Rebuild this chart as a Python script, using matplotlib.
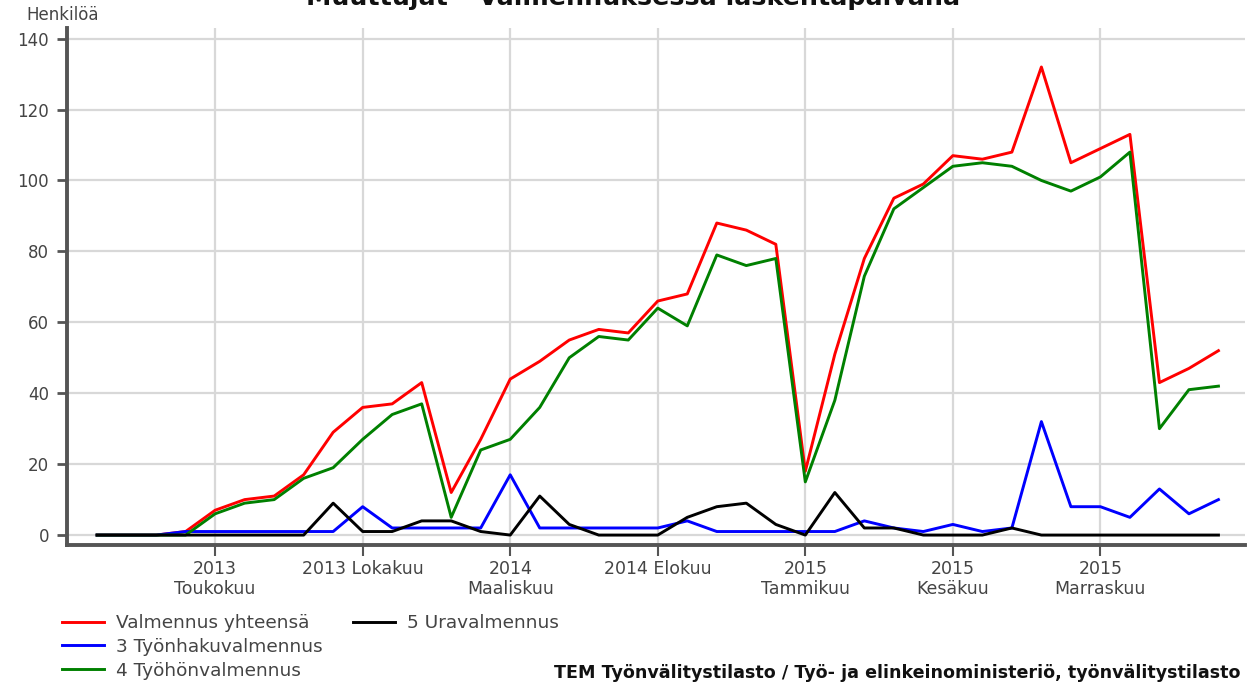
import matplotlib
matplotlib.use('Agg')
import matplotlib.pyplot as plt
import numpy as np

plt.rcParams['font.family'] = ['DejaVu Sans']

# months Jan 2013 .. Mar 2016
months = np.arange(39)

total = [0, 0, 0, 1, 7, 10, 11, 17, 29, 36, 37, 43, 12, 27, 44, 49, 55, 58, 57, 66,
         68, 88, 86, 82, 18, 51, 78, 95, 99, 107, 106, 108, 132, 105, 109, 113, 43, 47, 52]
tyonhaku = [0, 0, 0, 1, 1, 1, 1, 1, 1, 8, 2, 2, 2, 2, 17, 2, 2, 2, 2, 2,
            4, 1, 1, 1, 1, 1, 4, 2, 1, 3, 1, 2, 32, 8, 8, 5, 13, 6, 10]
tyohon = [0, 0, 0, 0, 6, 9, 10, 16, 19, 27, 34, 37, 5, 24, 27, 36, 50, 56, 55, 64,
          59, 79, 76, 78, 15, 38, 73, 92, 98, 104, 105, 104, 100, 97, 101, 108, 30, 41, 42]
ura = [0, 0, 0, 0, 0, 0, 0, 0, 9, 1, 1, 4, 4, 1, 0, 11, 3, 0, 0, 0,
       5, 8, 9, 3, 0, 12, 2, 2, 0, 0, 0, 2, 0, 0, 0, 0, 0, 0, 0]

tick_pos = [4, 9, 14, 19, 24, 29, 34]
tick_labels = ['2013\nToukokuu', '2013 Lokakuu', '2014\nMaaliskuu', '2014 Elokuu',
               '2015\nTammikuu', '2015\nKesäkuu', '2015\nMarraskuu']

fig = plt.figure(figsize=(12.49, 6.83), dpi=100)
ax = fig.add_axes([67/1249, 1 - 545/683, (1245 - 67)/1249, (545 - 28)/683])

lw = 2.1
l_tot, = ax.plot(months, total, color='#ff0000', lw=lw, label='Valmennus yhteensä')
l_hak, = ax.plot(months, tyonhaku, color='#0000ff', lw=lw, label='3 Työnhakuvalmennus')
l_hon, = ax.plot(months, tyohon, color='#008000', lw=lw, label='4 Työhönvalmennus')
l_ura, = ax.plot(months, ura, color='#000000', lw=lw, label='5 Uravalmennus')

ax.set_xlim(-1.02, 38.9)
ax.set_ylim(-2.8, 143)
ax.set_yticks(np.arange(0, 141, 20))
ax.set_xticks(tick_pos)
ax.set_xticklabels(tick_labels, fontsize=12.5, color='#444444', linespacing=1.15)
ax.tick_params(axis='y', labelsize=12, labelcolor='#444444', length=7, width=2,
               color='#555555', direction='out', pad=6)
ax.tick_params(axis='x', length=8, width=1.5, color='#555555', direction='out', pad=3)
ax.grid(True, color='#d8d8d8', lw=1.6)
ax.set_axisbelow(True)

for s in ['top', 'right']:
    ax.spines[s].set_visible(False)
for s in ['left', 'bottom']:
    ax.spines[s].set_linewidth(2.8)
    ax.spines[s].set_color('#555555')

fig.text(26/1249, 1 - 20/683, 'Henkilöä', fontsize=12, color='#444444', va='baseline')
fig.text(0.507, 1 - 5/683, 'Muuttujat – Valmennuksessa laskentapäivänä',
         fontsize=18.3, fontweight='bold', ha='center', va='baseline', color='#111111')

leg_kw = dict(frameon=False, fontsize=13.3, handlelength=2.3, handletextpad=0.6,
              labelspacing=0.32, borderpad=0, borderaxespad=0, loc='upper left',
              labelcolor='#444444')
fig.legend(handles=[l_tot, l_hak, l_hon], bbox_to_anchor=(62/1249, 1 - 614/683), **leg_kw)
fig.legend(handles=[l_ura], bbox_to_anchor=(353/1249, 1 - 614/683), **leg_kw)

fig.text(1240/1249, 1 - 678/683,
         'TEM Työnvälitystilasto / Työ- ja elinkeinoministeriö, työnvälitystilasto',
         fontsize=12.6, fontweight='bold', ha='right', va='baseline', color='#111111')

fig.savefig('out.png', dpi=100)
